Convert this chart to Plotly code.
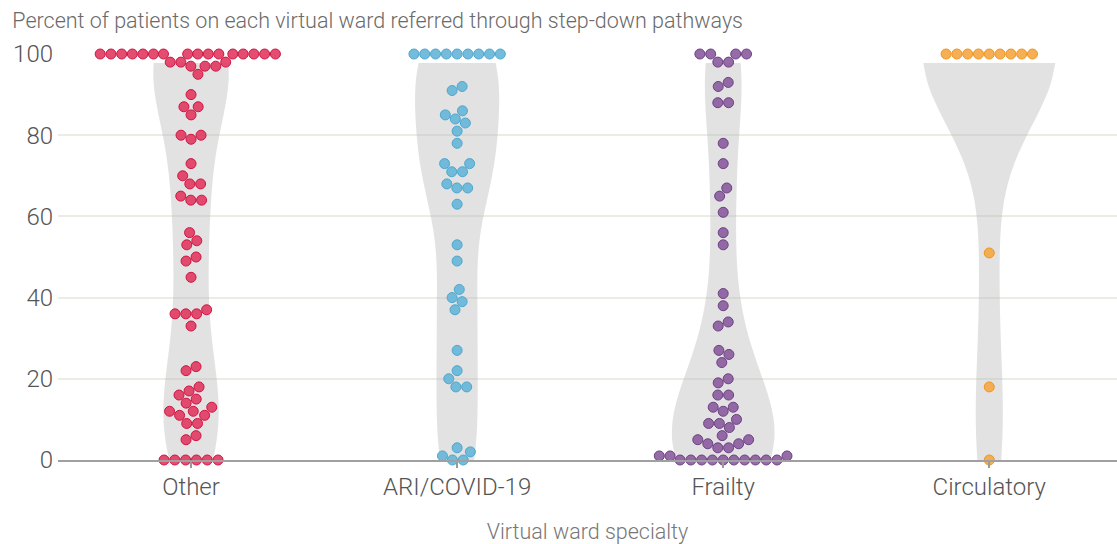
import math
import plotly.graph_objects as go

# ---- data ----
categories = ["Other", "ARI/COVID-19", "Frailty", "Circulatory"]

other_values = ([100] * 16 + [98] * 3 + [97] * 3 + [95, 90, 87, 87, 85, 80, 80, 79, 73, 70, 68, 68,
                65, 64, 64, 56, 54, 53, 50, 49, 45, 37, 36, 36, 36, 33, 23, 22, 18, 17, 16, 15,
                14, 13, 12, 12, 11, 11, 9, 9, 6, 5] + [0] * 6)
ari_values = ([100] * 9 + [92, 91, 86, 85, 84, 83, 81, 78, 73, 73, 71, 71, 68, 67, 67, 63, 53, 49,
              42, 40, 39, 37, 27, 22, 20, 18, 18, 3, 2, 1, 0, 0])
frailty_values = ([100] * 4 + [98, 98, 93, 92, 88, 88, 78, 73, 67, 65, 61, 56, 53, 41, 38, 34, 33,
                  27, 26, 24, 20, 19, 16, 16, 13, 13, 12, 10, 9, 9, 8, 6, 5, 5, 4, 4, 3, 3,
                  1, 1, 1] + [0] * 10)
circulatory_values = [100] * 9 + [51, 18, 0]

series = [other_values, ari_values, frailty_values, circulatory_values]

fill_colors = ["rgba(224,52,92,0.88)", "rgba(104,182,216,0.92)", "rgba(138,92,158,0.9)", "rgba(245,168,70,0.92)"]
line_colors = ["#cf1443", "#4ea6cf", "#6d3f83", "#ee9520"]
bandwidths = [14, 12, 14, 18]
violin_widths = [0.282, 0.316, 0.383, 0.496]

# ---- layout geometry ----
W, H = 1117, 544
ML, MR, MT, MB = 58, 0, 54, 84
x_range = [-0.5, 3.48]
y_range = [0, 100]
px_per_x = (W - ML - MR) / (x_range[1] - x_range[0])
px_per_y = (H - MT - MB) / (y_range[1] - y_range[0])
D = 10.8  # collision diameter in px


def swarm(values):
    n = len(values)
    ys = [v * px_per_y for v in values]
    order = sorted(range(n), key=lambda i: values[i])
    placed = []
    xs = [0.0] * n
    # greedy initial placement
    for i in order:
        y = ys[i]
        cands = [0.0]
        for (qx, qy) in placed:
            dy = abs(y - qy)
            if dy < D:
                dx = math.sqrt(D * D - dy * dy)
                cands += [qx + dx, qx - dx]
        cands.sort(key=lambda c: (round(abs(c), 6), c < 0))
        chosen = cands[-1]
        for c in cands:
            if all((c - qx) ** 2 + (y - qy) ** 2 >= D * D - 1e-6 for qx, qy in placed):
                chosen = c
                break
        xs[i] = chosen
        placed.append((chosen, y))
    # relaxation: pull to centre + collision resolution (y fixed)
    pairs = []
    for a in range(n):
        for b in range(a + 1, n):
            dy = abs(ys[a] - ys[b])
            if dy < D:
                pairs.append((a, b, math.sqrt(D * D - dy * dy)))

    def resolve(strength):
        for a, b, req in pairs:
            dx = xs[b] - xs[a]
            if abs(dx) < req:
                s = 1.0 if dx > 0 else (-1.0 if dx < 0 else (1.0 if (a + b) % 2 else -1.0))
                m = (req - abs(dx)) / 2 * strength
                xs[a] -= s * m
                xs[b] += s * m

    for it in range(250):
        for i in range(n):
            xs[i] *= 0.97
        resolve(0.7)
        resolve(0.7)
    for it in range(80):
        resolve(1.0)
    return [x / px_per_x for x in xs]


fig = go.Figure()

for k, vals in enumerate(series):
    fig.add_trace(go.Violin(
        x=[k] * len(vals), y=vals,
        spanmode="manual", span=[0, 97.8],
        bandwidth=bandwidths[k],
        width=violin_widths[k],
        scalemode="width", scalegroup="g%d" % k,
        fillcolor="rgba(185,185,185,0.42)",
        line=dict(width=0, color="rgba(0,0,0,0)"),
        points=False, hoverinfo="skip", showlegend=False,
    ))

for k, vals in enumerate(series):
    offs = swarm(vals)
    fig.add_trace(go.Scatter(
        x=[k + o for o in offs], y=vals, mode="markers",
        marker=dict(size=10, color=fill_colors[k], line=dict(width=1, color=line_colors[k])),
        cliponaxis=False, showlegend=False, hoverinfo="y",
    ))

fig.update_layout(
    width=W, height=H,
    margin=dict(l=ML, r=MR, t=MT, b=MB),
    paper_bgcolor="white", plot_bgcolor="white",
    font=dict(family="Roboto", color="#555555"),
    violinmode="overlay",
    title=dict(text="Percent of patients on each virtual ward referred through step-down pathways",
               x=0.011, xanchor="left", y=0.962, yanchor="middle",
               font=dict(size=21.5, color="#6a6a6a", family="Roboto", weight=300)),
)
fig.update_xaxes(
    range=x_range, tickvals=[0, 1, 2, 3], ticktext=categories,
    tickfont=dict(size=24, color="#555555", weight=300),
    ticks="outside", ticklen=6, tickcolor="#9a9a9a", tickwidth=1.5,
    ticklabelstandoff=-2,
    showline=True, linecolor="#a0a0a0", linewidth=1.5,
    showgrid=False, zeroline=False,
    title=dict(text="Virtual ward specialty", font=dict(size=21.5, color="#777777", weight=300), standoff=25),
)
fig.update_yaxes(
    range=y_range, tickvals=[0, 20, 40, 60, 80, 100],
    tickfont=dict(size=24, color="#555555", weight=300),
    showgrid=True, gridcolor="#e9ede4", gridwidth=1.5,
    zeroline=False, showline=False, ticks="", ticklabelstandoff=4,
)

fig.write_html("out.html", config={"displayModeBar": False},
               post_script="document.body.style.margin='0px';document.body.style.overflow='hidden';")
